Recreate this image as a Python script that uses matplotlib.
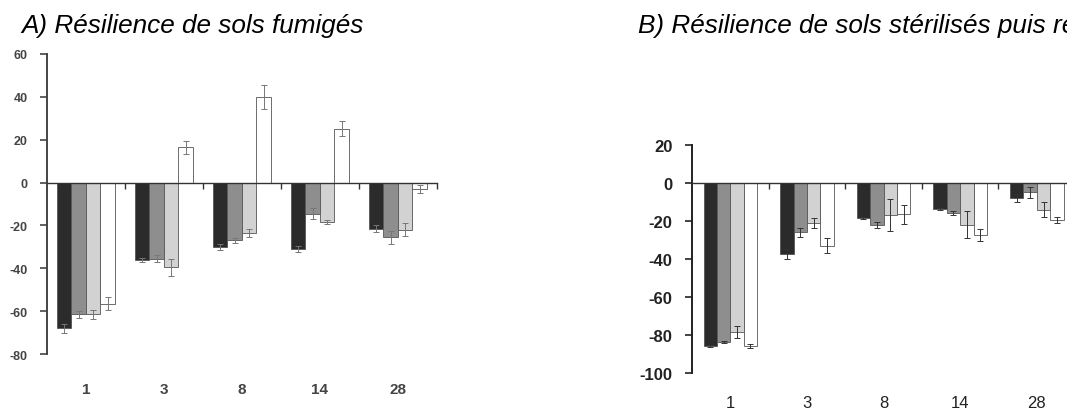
import numpy as np
import matplotlib
matplotlib.use("Agg")
import matplotlib.pyplot as plt
import matplotlib.transforms as mtrans

plt.rcParams['font.family'] = ['Liberation Sans', 'DejaVu Sans']
plt.rcParams['axes.unicode_minus'] = False

days = ['1', '3', '8', '14', '28']

# A) fumigated soils (% change), 4 treatments per day
a_black = [-68, -36, -30, -31, -21.5]
a_gray = [-61.5, -35.5, -27, -14.5, -25.5]
a_light = [-61.5, -39.5, -23.5, -18.5, -22]
a_white = [-56.5, 16.5, 40, 25, -3]
a_black_err = [2, 1, 1.5, 1.5, 1.5]
a_gray_err = [1.5, 1.5, 1, 2.5, 3]
a_light_err = [2, 4, 2, 1, 3]
a_white_err = [3, 3, 5.5, 3.5, 2]

# B) sterilised then re-inoculated soils
b_black = [-86, -37.5, -18.5, -13.5, -8]
b_gray = [-83.5, -26, -22, -16, -5]
b_light = [-78.5, -21, -17, -22, -14]
b_white = [-86, -33, -16.5, -27.5, -19.5]
b_black_err = [0.5, 2.5, 0.5, 0.5, 2]
b_gray_err = [0.5, 2.5, 1.5, 1, 3]
b_light_err = [3, 2.5, 8.5, 7, 4]
b_white_err = [1, 4, 5, 3, 1.5]

fills = ['#2b2b2b', '#8e8e8e', '#d2d2d2', '#ffffff']


def panel(ax, series, errs, width, yticks, tick_fs, tick_weight, cat_fs,
          cat_weight, cat_y, axcol, errcol):
    x = np.arange(len(days))
    n = len(series)
    for k, (vals, err) in enumerate(zip(series, errs)):
        pos = x + (k - (n - 1) / 2) * width
        ax.bar(pos, vals, width, color=fills[k], edgecolor='#555555',
               linewidth=0.6, zorder=2)
        ax.errorbar(pos, vals, yerr=err, fmt='none', ecolor=errcol,
                    elinewidth=0.7, capsize=2.5, capthick=0.7, zorder=3)
    ax.set_xlim(-0.5, len(days) - 0.5)
    ax.set_ylim(yticks[0], yticks[-1])
    ax.set_yticks(yticks)
    ax.set_yticklabels([str(v) for v in yticks], fontsize=tick_fs,
                       fontweight=tick_weight, color=axcol)
    ax.set_xticks(x + 0.5)
    ax.set_xticklabels([])
    for s in ['top', 'right']:
        ax.spines[s].set_visible(False)
    ax.spines['bottom'].set_position(('data', 0))
    ax.spines['bottom'].set_zorder(4)
    ax.spines['left'].set_color(axcol)
    ax.spines['bottom'].set_color('#333333')
    ax.spines['left'].set_linewidth(1.4)
    ax.spines['bottom'].set_linewidth(1.0)
    ax.tick_params(axis='y', direction='out', length=5, width=1.2,
                   color=axcol, pad=9)
    ax.tick_params(axis='x', direction='out', length=4, width=1.0,
                   color='#333333')
    tr = mtrans.blended_transform_factory(ax.transData, ax.transAxes)
    for i, d in enumerate(days):
        ax.text(i, cat_y, d, transform=tr, ha='center', va='center',
                fontsize=cat_fs, fontweight=cat_weight, color=axcol)


fig = plt.figure(figsize=(10.67, 4.10), dpi=100)

ax1 = fig.add_axes([0.044, 0.134, 0.3655, 0.732])
panel(ax1, [a_black, a_gray, a_light, a_white],
      [a_black_err, a_gray_err, a_light_err, a_white_err],
      0.186, list(range(-80, 61, 20)), 9, 'bold', 11, 'bold', -0.117,
      '#444444', '#777777')

ax2 = fig.add_axes([0.6486, 0.088, 0.359, 0.556])
panel(ax2, [b_black, b_gray, b_light, b_white],
      [b_black_err, b_gray_err, b_light_err, b_white_err],
      0.175, list(range(-100, 21, 20)), 12, 'bold', 12, 'normal', -0.13,
      '#222222', '#333333')

fig.text(21 / 1067, 1 - 33 / 410, 'A) Résilience de sols fumigés',
         fontsize=18.8, style='italic', ha='left', va='baseline')
# the right-hand title runs past the figure edge and is clipped there
fig.text(638 / 1067, 1 - 33 / 410,
         'B) Résilience de sols stérilisés puis réinoculés',
         fontsize=18.8, style='italic', ha='left', va='baseline')

fig.savefig('out.png', dpi=100)
